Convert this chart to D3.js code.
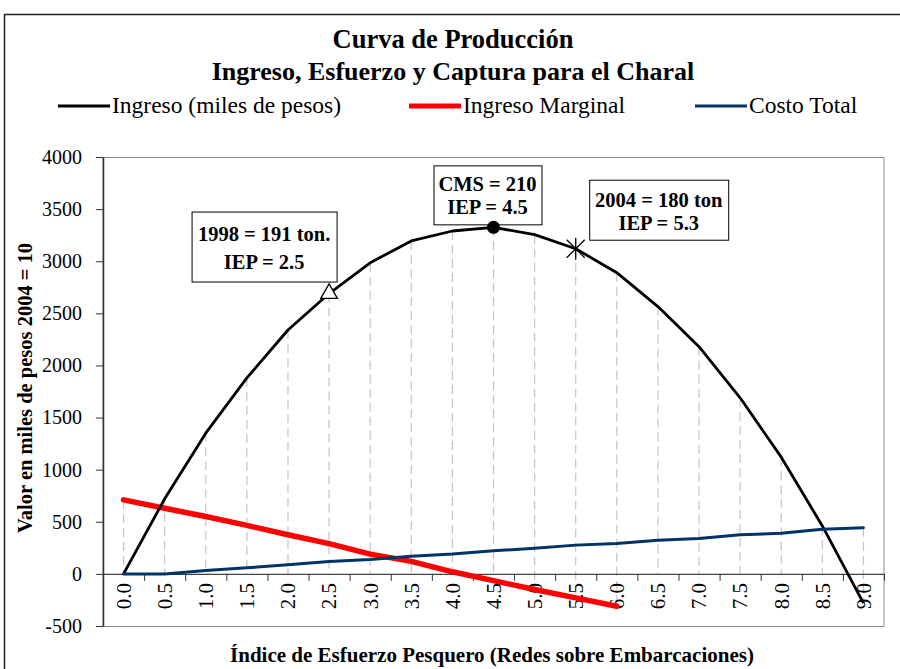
<!DOCTYPE html>
<html>
<head>
<meta charset="utf-8">
<script src="https://cdn.jsdelivr.net/npm/d3@7"></script>
<style>
  body { margin: 0; background: #fff; }
  svg { display: block; font-family: "Liberation Serif", "Times New Roman", serif; }
</style>
</head>
<body>
<svg id="chart" width="900" height="669"></svg>
<script>
// chart values
const categories = ["0.0", "0.5", "1.0", "1.5", "2.0", "2.5", "3.0", "3.5", "4.0", "4.5",
  "5.0", "5.5", "6.0", "6.5", "7.0", "7.5", "8.0", "8.5", "9.0"];
const ingreso = [0, 720, 1350, 1880, 2340, 2690, 2985, 3195, 3290, 3325,
  3255, 3120, 2890, 2565, 2180, 1690, 1120, 460, -280];
const ingresoMarginal = [710, 630, 550, 465, 375, 290, 190, 120, 20, -65, -150, -230, -310];
const costoTotal = [0, 0, 32, 58, 88, 120, 138, 170, 190, 222,
  245, 276, 292, 323, 340, 375, 390, 428, 443];
const yTicks = [-500, 0, 500, 1000, 1500, 2000, 2500, 3000, 3500, 4000];

const seriesNames = ["Ingreso (miles de pesos)", "Ingreso Marginal", "Costo Total"];
const seriesColors = ["#000000", "#ff0000", "#003366"];

// annotated points on the Ingreso curve
const notes = [
  { cat: "2.5", lines: ["1998 = 191 ton.", "IEP = 2.5"], marker: "triangle" },
  { cat: "4.5", lines: ["CMS = 210", "IEP = 4.5"], marker: "circle" },
  { cat: "5.5", lines: ["2004 = 180 ton", "IEP = 5.3"], marker: "star" }
];

const svg = d3.select("#chart");
const plotL = 103, plotR = 884, plotT = 157, plotB = 626;

const x = d3.scaleBand().domain(categories).range([plotL, plotR]).padding(0);
const xEdge = d3.scaleLinear().domain([0, categories.length]).range([plotL, plotR]);
const y = d3.scaleLinear().domain([-500, 4000]).range([plotB, plotT]);
const cx = (c) => x(c) + x.bandwidth() / 2;

// outer chart border
svg.append("rect")
  .attr("x", 4.5).attr("y", 14.5)
  .attr("width", 900).attr("height", 700)
  .attr("fill", "none").attr("stroke", "#222").attr("stroke-width", 1.5);

// titles
svg.append("text").attr("x", 453).attr("y", 48)
  .attr("text-anchor", "middle").style("font-weight", "bold").style("font-size", "26.5px")
  .text("Curva de Producción");
svg.append("text").attr("x", 453).attr("y", 80)
  .attr("text-anchor", "middle").style("font-weight", "bold").style("font-size", "26px")
  .text("Ingreso, Esfuerzo y Captura para el Charal");

// legend
const legendX = [58, 409, 695];
const legendW = [3, 5, 3];
const lg = svg.selectAll("g.legend").data(seriesNames).enter().append("g")
  .attr("class", "legend")
  .attr("transform", (d, i) => `translate(${legendX[i]},106)`);
lg.append("line").attr("x1", 0).attr("x2", 52).attr("y1", 0).attr("y2", 0)
  .attr("stroke", (d, i) => seriesColors[i]).attr("stroke-width", (d, i) => legendW[i]);
lg.append("text").attr("x", 54).attr("y", 7).style("font-size", "23.5px").text((d) => d);

// plot area border
svg.append("rect")
  .attr("x", plotL).attr("y", plotT + 0.5)
  .attr("width", plotR - plotL).attr("height", plotB - plotT)
  .attr("fill", "none").attr("stroke", "#8c8c8c").attr("stroke-width", 1);

// drop lines
const drops = categories.map((c, i) => {
  const vals = [ingreso[i], ingresoMarginal[i], costoTotal[i], 0].filter((v) => v !== undefined);
  return { c, hi: d3.max(vals), lo: d3.min(vals) };
});
svg.append("g").selectAll("line").data(drops).enter().append("line")
  .attr("x1", (d) => cx(d.c)).attr("x2", (d) => cx(d.c))
  .attr("y1", (d) => y(d.hi)).attr("y2", (d) => y(d.lo))
  .attr("stroke", "#c4c4c4").attr("stroke-width", 1.2)
  .attr("stroke-dasharray", "9,5");

// y axis
const yAxis = svg.append("g")
  .attr("transform", `translate(${plotL},0)`)
  .call(d3.axisLeft(y).tickValues(yTicks).tickSize(7).tickPadding(14).tickSizeOuter(0)
    .tickFormat((d) => String(d)));
yAxis.select(".domain").attr("stroke", "#333").attr("stroke-width", 1.5);
yAxis.selectAll(".tick line").attr("stroke", "#333");
yAxis.selectAll("text").style("font-size", "20px").style("font-family", "Liberation Serif, serif")
  .attr("fill", "#000");

// x axis at zero: boundary ticks + rotated labels
const xTicks = svg.append("g")
  .attr("transform", `translate(0,${y(0)})`)
  .call(d3.axisBottom(xEdge).tickValues(d3.range(1, categories.length + 1)).tickSize(7)
    .tickFormat("").tickSizeOuter(0));
xTicks.select(".domain").attr("stroke", "#444").attr("stroke-width", 1.3);
xTicks.selectAll(".tick line").attr("stroke", "#333");

const xLabels = svg.append("g")
  .attr("transform", `translate(0,${y(0)})`)
  .call(d3.axisBottom(x).tickSize(0).tickSizeOuter(0));
xLabels.select(".domain").remove();
xLabels.selectAll("text")
  .attr("transform", "rotate(-90)")
  .attr("x", -9).attr("y", 0).attr("dy", "0.35em")
  .style("text-anchor", "end")
  .style("font-size", "21px").style("font-family", "Liberation Serif, serif")
  .attr("fill", "#000");

// axis titles
svg.append("text")
  .attr("transform", "translate(32,388) rotate(-90)")
  .attr("text-anchor", "middle").style("font-weight", "bold").style("font-size", "20.5px")
  .text("Valor en miles de pesos 2004 = 10");
svg.append("text")
  .attr("x", 492).attr("y", 662)
  .attr("text-anchor", "middle").style("font-weight", "bold").style("font-size", "21px")
  .text("Índice de Esfuerzo Pesquero (Redes sobre Embarcaciones)");

// series lines
const line = (vals) => d3.line()
  .x((d, i) => cx(categories[i]))
  .y((d) => y(d))(vals);

svg.append("path").attr("d", line(ingresoMarginal))
  .attr("fill", "none").attr("stroke", seriesColors[1]).attr("stroke-width", 5.5)
  .attr("stroke-linejoin", "round").attr("stroke-linecap", "round");
svg.append("path").attr("d", line(ingreso))
  .attr("fill", "none").attr("stroke", seriesColors[0]).attr("stroke-width", 2.8)
  .attr("stroke-linejoin", "round");
svg.append("path").attr("d", line(costoTotal))
  .attr("fill", "none").attr("stroke", seriesColors[2]).attr("stroke-width", 3)
  .attr("stroke-linejoin", "round").attr("stroke-linecap", "round");

// annotation boxes (offsets relative to their point)
const boxes = [
  { dx: -65, dy: -82, w: 145, h: 70, b1: 29, b2: 57 },
  { dx: -6, dy: -62, w: 108, h: 59, b1: 26, b2: 49 },
  { dx: 83, dy: -69, w: 139, h: 60, b1: 27, b2: 50 }
];
notes.forEach((n, k) => {
  const i = categories.indexOf(n.cat);
  const b = boxes[k];
  const bx = cx(n.cat) + b.dx, by = y(ingreso[i]) + b.dy;
  const g = svg.append("g").attr("transform", `translate(${bx},${by})`);
  g.append("rect").attr("x", -b.w / 2 + 0.5).attr("y", 0.5).attr("width", b.w).attr("height", b.h)
    .attr("fill", "#fff").attr("stroke", "#000").attr("stroke-width", 1);
  g.selectAll("text").data(n.lines).enter().append("text")
    .attr("x", 0).attr("y", (d, j) => (j === 0 ? b.b1 : b.b2))
    .attr("text-anchor", "middle").style("font-weight", "bold").style("font-size", "20.5px")
    .text((d) => d);
});

// markers on Ingreso
notes.forEach((n) => {
  const i = categories.indexOf(n.cat);
  const px = cx(n.cat), py = y(ingreso[i]);
  const g = svg.append("g").attr("transform", `translate(${px},${py})`);
  if (n.marker === "triangle") {
    g.append("path").attr("d", d3.symbol(d3.symbolTriangle, 120)())
      .attr("fill", "#fff").attr("stroke", "#000").attr("stroke-width", 1.3);
  } else if (n.marker === "circle") {
    g.append("circle").attr("r", 6.5).attr("fill", "#000");
  } else {
    g.append("path").attr("d", "M-9,-9L9,9M-9,9L9,-9M0,-11L0,11")
      .attr("stroke", "#000").attr("stroke-width", 1.3).attr("fill", "none");
  }
});
</script>
</body>
</html>
